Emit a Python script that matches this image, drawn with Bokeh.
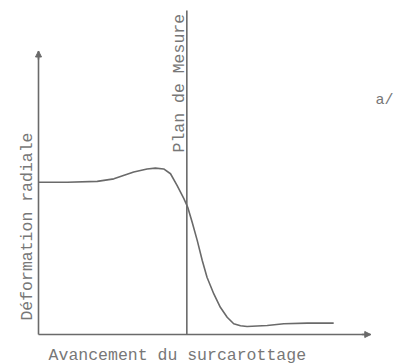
import math
from bokeh.plotting import figure
from bokeh.models import Range1d, Label, Arrow, NormalHead
from bokeh.embed import file_html
from bokeh.resources import INLINE

# Curve: "avancement du surcarottage" (x) vs "déformation radiale" (y), arbitrary units
advance = [0.01, 0.97, 1.98, 2.54, 3.21, 3.66, 3.94, 4.22, 4.45, 4.67, 4.90, 5.03,
           5.18, 5.35, 5.52, 5.68, 5.91, 6.13, 6.36, 6.58, 6.81, 7.03, 7.71, 8.27,
           9.06, 9.95]
deformation = [5.37, 5.37, 5.40, 5.49, 5.73, 5.84, 5.87, 5.84, 5.67, 5.26, 4.79, 4.49,
               3.96, 3.32, 2.61, 2.02, 1.43, 0.96, 0.61, 0.38, 0.31, 0.28, 0.32, 0.38,
               0.40, 0.40]
plan_position = 5.0
plan_top = 11.43
x_axis_end = 11.2
y_axis_end = 10.0

x_label = "Avancement du surcarottage"
y_label = "Déformation radiale"
plan_label = "Plan de Mesure"
panel_label = "a/"

LINE = "#6a6a6a"
TEXT = "#777777"
FONT = "Liberation Mono"
FS = "16.5px"

p = figure(width=394, height=364, x_range=Range1d(-1.281, 12.0), y_range=Range1d(-1.058, 11.781),
           output_backend="svg", toolbar_location=None,
           x_axis_location=None, y_axis_location=None,
           min_border=0, min_border_left=0, min_border_right=0,
           min_border_top=0, min_border_bottom=0)
p.outline_line_color = None
p.xgrid.visible = False
p.ygrid.visible = False
p.background_fill_color = "white"
p.border_fill_color = "white"

# axes (drawn from origin to their ends) and measurement plane
p.segment(x0=[0, 0, plan_position], y0=[0, 0, 0],
          x1=[x_axis_end, 0, plan_position], y1=[0, y_axis_end, plan_top],
          line_color=LINE, line_width=1.6)

p.add_layout(Arrow(end=NormalHead(size=6, fill_color=LINE, line_color=LINE),
                   x_start=0, y_start=y_axis_end - 0.3, x_end=0, y_end=y_axis_end,
                   line_color=LINE, line_width=1.6))
p.add_layout(Arrow(end=NormalHead(size=6, fill_color=LINE, line_color=LINE),
                   x_start=x_axis_end - 0.3, y_start=0, x_end=x_axis_end, y_end=0,
                   line_color=LINE, line_width=1.6))

p.line(advance, deformation, line_color=LINE, line_width=1.6)

def lab(x, y, t, angle=0.0, size=FS):
    p.add_layout(Label(x=x, y=y, text=t, angle=angle, text_font=FONT,
                       text_font_size=size, text_color=TEXT,
                       text_align="left", text_baseline="alphabetic"))

lab(0.34, -0.74, x_label)
lab(-0.37, 0.49, y_label, angle=math.pi / 2)
lab(4.74, 6.42, plan_label, angle=math.pi / 2)
lab(11.36, 8.27, panel_label, size="15px")

open("out.html", "w").write(file_html(p, INLINE))
